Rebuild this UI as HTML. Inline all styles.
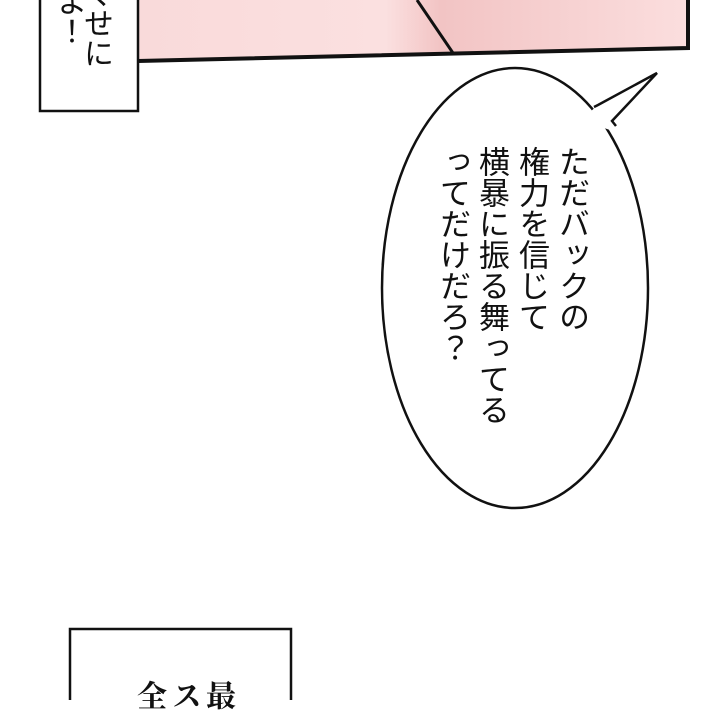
<!DOCTYPE html>
<html><head><meta charset="utf-8"><style>
html,body{margin:0;padding:0;background:#fff;}
body{width:720px;height:700px;position:relative;overflow:hidden;font-family:"Liberation Sans","Noto Sans CJK JP",sans-serif;}
.v{position:absolute;writing-mode:vertical-rl;color:#111;white-space:nowrap;}
</style></head><body>
<svg width="720" height="700" style="position:absolute;left:0;top:0">
<defs>
<linearGradient id="pk" x1="0" y1="0" x2="1" y2="0">
<stop offset="0" stop-color="#f9dada"/>
<stop offset="0.45" stop-color="#fbe0e0"/>
<stop offset="0.55" stop-color="#f2c4c4"/>
<stop offset="1" stop-color="#fbdede"/>
</linearGradient>
</defs>
<polygon points="138,-5 688,-5 688,48 138,61" fill="url(#pk)"/>
<polyline points="688,-5 688,48 138,61" fill="none" stroke="#111" stroke-width="4"/>
<line x1="417" y1="0" x2="453" y2="53" stroke="#111" stroke-width="3"/>
<rect x="40" y="-10" width="98" height="121" fill="#fff" stroke="#111" stroke-width="2.5"/>
<ellipse cx="515" cy="288" rx="133" ry="220" fill="#fff" stroke="#111" stroke-width="2.5"/>
<polygon points="590,112 598,105 657,73 612,121 610,130 595,125" fill="#fff"/>
<polyline points="594,107 598,105 657,73 612,121 616,126" fill="none" stroke="#111" stroke-width="2.5"/>
<rect x="70" y="629" width="221" height="90" fill="#fff" stroke="#111" stroke-width="2.5"/>
</svg>
<div class="v" style="left:80px;top:-22px;font-size:30px;line-height:30px;">くせに</div>
<div class="v" style="left:53px;top:-14px;font-size:30px;line-height:30px;">よ！</div>
<div class="v" style="left:556px;top:146px;font-size:31px;line-height:31px;">ただバックの</div>
<div class="v" style="left:516px;top:146px;font-size:31px;line-height:31px;">権力を信じて</div>
<div class="v" style="left:476px;top:146px;font-size:31px;line-height:31px;">横暴に振る舞ってる</div>
<div class="v" style="left:437px;top:146px;font-size:31px;line-height:31px;">ってだけだろ？</div>
<div class="v" style="left:202px;top:680px;font-size:30px;line-height:30px;font-family:'Liberation Serif','Noto Serif CJK SC',serif;font-weight:bold;">最</div>
<div class="v" style="left:168px;top:680px;font-size:30px;line-height:30px;font-family:'Liberation Serif','Noto Serif CJK SC',serif;font-weight:bold;">ス</div>
<div class="v" style="left:133px;top:680px;font-size:30px;line-height:30px;font-family:'Liberation Serif','Noto Serif CJK SC',serif;font-weight:bold;">全</div>
</body></html>
